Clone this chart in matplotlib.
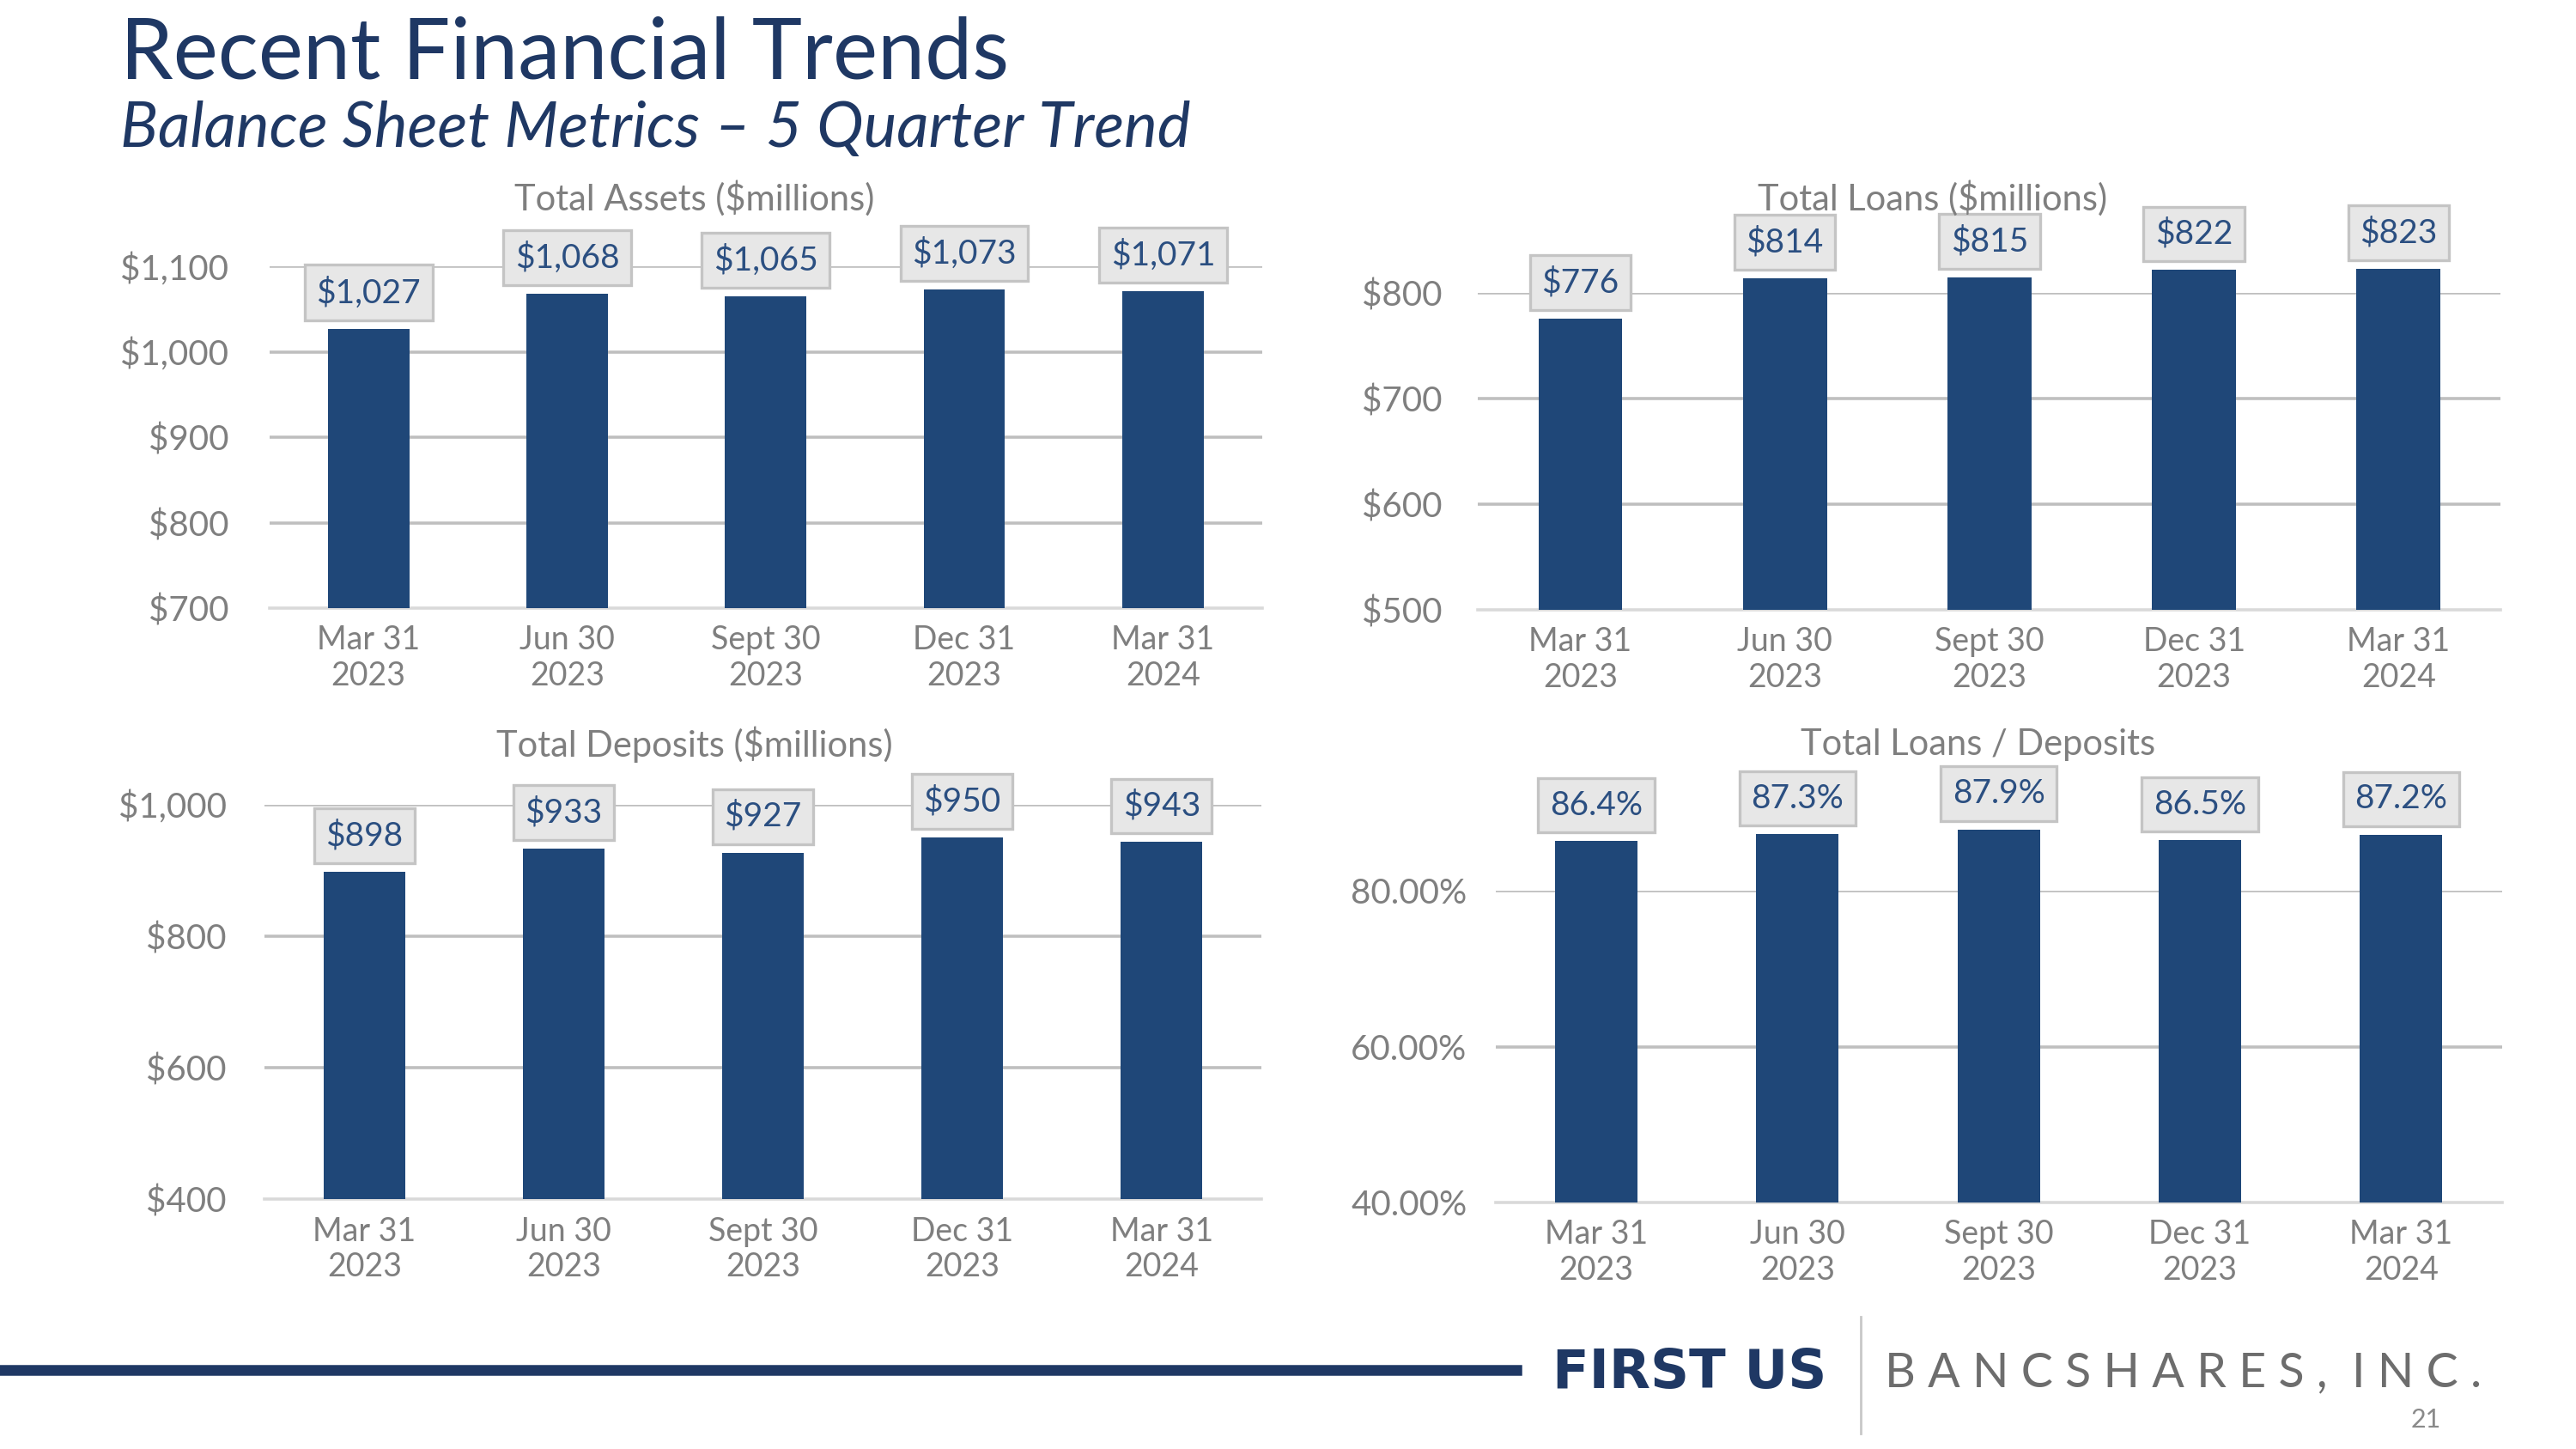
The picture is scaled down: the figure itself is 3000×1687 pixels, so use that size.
import matplotlib
matplotlib.use('Agg')
import matplotlib.pyplot as plt
from matplotlib.lines import Line2D

plt.rcParams['font.family'] = ['Lato', 'DejaVu Sans']

quarters = ['Mar 31\n2023', 'Jun 30\n2023', 'Sept 30\n2023', 'Dec 31\n2023', 'Mar 31\n2024']

total_assets = [1027, 1068, 1065, 1073, 1071]
total_loans = [776, 814, 815, 822, 823]
total_deposits = [898, 933, 927, 950, 943]
loans_to_deposits = [86.4, 87.3, 87.9, 86.5, 87.2]

assets_ticks = [700, 800, 900, 1000, 1100]
loans_ticks = [500, 600, 700, 800]
deposits_ticks = [400, 600, 800, 1000]
ratio_ticks = [40, 60, 80]

navy = '#1f4778'
label_blue = '#2b4f81'
gray_txt = '#7f7f7f'

fig = plt.figure(figsize=(15, 8.435), dpi=200)


def draw_panel(rect, values, ticks, ylim, tick_fmt, label_fmt, ypad):
    ax = fig.add_axes(rect)
    x = range(len(values))
    base = ylim[0]
    # bars start at the axis floor; tops may rise above the last gridline
    ax.bar(x, [v - base for v in values], bottom=base, width=0.41, color=navy,
           zorder=3, clip_on=False)
    ax.set_xlim(-0.5, len(values) - 0.5)
    ax.set_ylim(*ylim)
    ax.set_yticks(ticks)
    ax.set_yticklabels([tick_fmt(t) for t in ticks])
    ax.set_xticks(list(x))
    ax.set_xticklabels(quarters, linespacing=1.2)
    for t in ticks[1:]:
        ax.axhline(t, color='#bfbfbf', lw=1.3, zorder=1)
    for s in ['top', 'right', 'left']:
        ax.spines[s].set_visible(False)
    ax.spines['bottom'].set_color('#d9d9d9')
    ax.spines['bottom'].set_linewidth(1.3)
    ax.tick_params(axis='y', length=0, pad=ypad, labelsize=14.5, labelcolor=gray_txt)
    ax.tick_params(axis='x', length=0, pad=7, labelsize=13.5, labelcolor=gray_txt)
    for i, v in enumerate(values):
        ax.annotate(label_fmt(v), xy=(i, v), xytext=(0, 8.5), textcoords='offset points',
                    ha='center', va='bottom', fontsize=14, color=label_blue, zorder=5,
                    annotation_clip=False,
                    bbox=dict(boxstyle='square,pad=0.35', fc='#e7e7e7', ec='#c4c4c4', lw=1.2))
    return ax


dollar = lambda t: '${:,.0f}'.format(t)

draw_panel([0.1045, 0.5803, 0.3855, 0.2357], total_assets, assets_ticks, (700, 1100),
           dollar, dollar, 17)
draw_panel([0.5738, 0.5793, 0.3970, 0.2184], total_loans, loans_ticks, (500, 800),
           dollar, dollar, 15)
draw_panel([0.1028, 0.1724, 0.3868, 0.2724], total_deposits, deposits_ticks, (400, 1000),
           dollar, dollar, 16)
draw_panel([0.5806, 0.1701, 0.3906, 0.2150], loans_to_deposits, ratio_ticks, (40, 80),
           lambda t: '{:.2f}%'.format(t), lambda v: '{:.1f}%'.format(v), 12)

# chart titles
fig.text(0.2697, 1 - 231 / 1687, 'Total Assets ($millions)', ha='center', va='center',
         fontsize=15, color=gray_txt)
fig.text(0.7503, 1 - 231 / 1687, 'Total Loans ($millions)', ha='center', va='center',
         fontsize=15, color=gray_txt)
fig.text(0.2697, 1 - 867 / 1687, 'Total Deposits ($millions)', ha='center', va='center',
         fontsize=15, color=gray_txt)
fig.text(0.7677, 1 - 867 / 1687, 'Total Loans / Deposits', ha='center', va='center',
         fontsize=15, color=gray_txt)

# slide title
fig.text(140 / 3000, 1 - 64 / 1687, 'Recent Financial Trends', ha='left', va='center',
         fontsize=35.5, color='#1f3864')
fig.text(140 / 3000, 1 - 150 / 1687, 'Balance Sheet Metrics \u2013 5 Quarter Trend', ha='left',
         va='center', fontsize=26.3, style='italic', color='#1f3864')

# footer
fig.add_artist(Line2D([0, 1766 / 3000], [1 - 1595 / 1687] * 2, color='#1f3864', lw=4.5))
fig.add_artist(Line2D([2167 / 3000] * 2, [1 - 1533 / 1687, 1 - 1669 / 1687], color='#c8c8c8', lw=1))
fig.text(1808 / 3000, 1 - 1599 / 1687, 'FIRST US', ha='left', va='center', fontsize=22.5,
         fontweight='bold', color='#1f3864', family=['DejaVu Sans'])
fig.text(2195 / 3000, 1 - 1599 / 1687, 'B A N C S H A R E S ,  I N C .', ha='left', va='center',
         fontsize=20, color='#6d6d6d')
fig.text(2825 / 3000, 1 - 1653 / 1687, '21', ha='center', va='center', fontsize=11,
         color='#8a8a8a')

fig.savefig('out.png', dpi=200)
